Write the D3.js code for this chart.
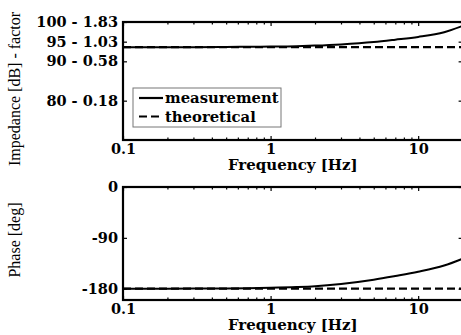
<!DOCTYPE html>
<html>
<head>
<meta charset="utf-8">
<script src="https://cdn.jsdelivr.net/npm/d3@7"></script>
<style>
  html, body { margin: 0; padding: 0; background: #fff; }
  svg { display: block; }
</style>
</head>
<body>
<svg id="chart" width="461" height="335"></svg>
<script>
// Frequency response: impedance magnitude and phase, measured vs. theoretical
const freqs            = [0.1, 0.2, 0.3, 0.5, 0.7, 1, 1.5, 2, 3, 5, 7, 10, 15, 20];
const impMeasured      = [93.6, 93.6, 93.6, 93.65, 93.7, 93.75, 93.85, 94.0, 94.3, 94.9, 95.5, 96.2, 97.4, 99.0];
const impTheoretical   = [93.6, 93.6, 93.6, 93.6, 93.6, 93.6, 93.6, 93.6, 93.6, 93.6, 93.6, 93.6, 93.6, 93.6];
const phaseMeasured    = [-180, -180, -179.8, -179.5, -179, -178.3, -177, -175.5, -171.5, -164, -157.5, -150, -139, -127];
const phaseTheoretical = [-180, -180, -180, -180, -180, -180, -180, -180, -180, -180, -180, -180, -180, -180];

const impTicks        = [80, 90, 95, 100];
const impTickLabels   = ["80 - 0.18", "90 - 0.58", "95 - 1.03", "100 - 1.83"];
const phaseTicks      = [-180, -90, 0];
const phaseTickLabels = ["-180", "-90", "0"];
const freqTicks       = [0.1, 1, 10];
const freqTickLabels  = ["0.1", "1", "10"];
const freqMinorTicks  = [0.2, 0.3, 0.4, 0.5, 0.6, 0.7, 0.8, 0.9, 2, 3, 4, 5, 6, 7, 8, 9];
const legendLabels    = ["measurement", "theoretical"];

const svg = d3.select("#chart");
const serif = '"DejaVu Serif", serif';
const times = '"Liberation Serif", serif';

const x = d3.scaleLog().domain([0.1, 20]).range([123, 462.6]);

const panels = [
  {
    id: "imp",
    y: d3.scaleLinear().domain([70, 100]).range([140, 22]),
    measured: impMeasured, theoretical: impTheoretical,
    ticks: impTicks, tickLabels: impTickLabels,
    title: "Impedance [dB] - factor", titleY: 89, legend: true
  },
  {
    id: "phase",
    y: d3.scaleLinear().domain([-200, 0]).range([300, 187]),
    measured: phaseMeasured, theoretical: phaseTheoretical,
    ticks: phaseTicks, tickLabels: phaseTickLabels,
    title: "Phase [deg]", titleY: 240, legend: false
  }
];

function styleTicks(a) {
  a.select(".domain").remove();
  a.selectAll(".tick line").attr("stroke", "#000").attr("stroke-width", 1.2);
  a.selectAll(".tick text")
    .attr("font-family", serif).attr("font-size", 14.5)
    .attr("font-weight", "bold").attr("fill", "#000");
}

panels.forEach(p => {
  const [yb, yt] = p.y.range();
  const [xl, xr] = x.range();
  const g = svg.append("g");

  g.append("clipPath").attr("id", "clip-" + p.id)
    .append("rect").attr("x", xl).attr("y", yt).attr("width", xr - xl).attr("height", yb - yt);

  const line = d3.line().x((d, i) => x(freqs[i])).y(d => p.y(d)).curve(d3.curveMonotoneX);

  const plot = g.append("g").attr("clip-path", `url(#clip-${p.id})`);
  plot.append("path").datum(p.theoretical)
    .attr("d", line).attr("fill", "none").attr("stroke", "#000")
    .attr("stroke-width", 2.2).attr("stroke-dasharray", "8,4");
  plot.append("path").datum(p.measured)
    .attr("d", line).attr("fill", "none").attr("stroke", "#000")
    .attr("stroke-width", 2);

  // inward ticks on all four sides
  const fmtY = d => p.tickLabels[p.ticks.indexOf(d)];
  g.append("g").attr("transform", `translate(${xl},0)`)
    .call(d3.axisLeft(p.y).tickValues(p.ticks).tickFormat(fmtY).tickSizeInner(-4).tickSizeOuter(0).tickPadding(5))
    .call(styleTicks);
  g.append("g").attr("transform", `translate(${xr},0)`)
    .call(d3.axisRight(p.y).tickValues(p.ticks).tickFormat("").tickSizeInner(-4).tickSizeOuter(0))
    .call(styleTicks);

  const fmtX = d => freqTickLabels[freqTicks.indexOf(d)];
  g.append("g").attr("transform", `translate(0,${yb})`)
    .call(d3.axisBottom(x).tickValues(freqTicks).tickFormat(fmtX).tickSizeInner(-4).tickSizeOuter(0).tickPadding(3.5))
    .call(styleTicks);
  g.append("g").attr("transform", `translate(0,${yb})`)
    .call(d3.axisBottom(x).tickValues(freqMinorTicks).tickFormat("").tickSizeInner(-2.5).tickSizeOuter(0))
    .call(styleTicks);
  g.append("g").attr("transform", `translate(0,${yt})`)
    .call(d3.axisTop(x).tickValues(freqTicks).tickFormat("").tickSizeInner(-4).tickSizeOuter(0))
    .call(styleTicks);
  g.append("g").attr("transform", `translate(0,${yt})`)
    .call(d3.axisTop(x).tickValues(freqMinorTicks).tickFormat("").tickSizeInner(-2.5).tickSizeOuter(0))
    .call(styleTicks);

  // frame
  g.append("rect").attr("x", xl).attr("y", yt).attr("width", xr - xl).attr("height", yb - yt)
    .attr("fill", "none").attr("stroke", "#000").attr("stroke-width", 2.2);

  // axis titles
  g.append("text").attr("x", (xl + xr) / 2).attr("y", yb + 29.5)
    .attr("text-anchor", "middle").attr("font-family", serif).attr("font-size", 15)
    .attr("font-weight", "bold").text("Frequency [Hz]");
  g.append("text")
    .attr("transform", `translate(20,${p.titleY}) rotate(-90)`)
    .attr("text-anchor", "middle").attr("font-family", times)
    .attr("font-size", 16).text(p.title);

  if (p.legend) {
    const lg = g.append("g");
    lg.append("rect").attr("x", 133).attr("y", 88).attr("width", 148).attr("height", 39)
      .attr("fill", "#fff").attr("stroke", "#777").attr("stroke-width", 1);
    legendLabels.forEach((lab, i) => {
      const ly = 98 + i * 18.5;
      lg.append("line").attr("x1", 139).attr("x2", 163).attr("y1", ly).attr("y2", ly)
        .attr("stroke", "#000").attr("stroke-width", 2.2)
        .attr("stroke-dasharray", i === 1 ? "8,4" : null);
      lg.append("text").attr("x", 165).attr("y", ly + 5)
        .attr("font-family", serif).attr("font-size", 14.8).attr("font-weight", "bold")
        .text(lab);
    });
  }
});
</script>
</body>
</html>
